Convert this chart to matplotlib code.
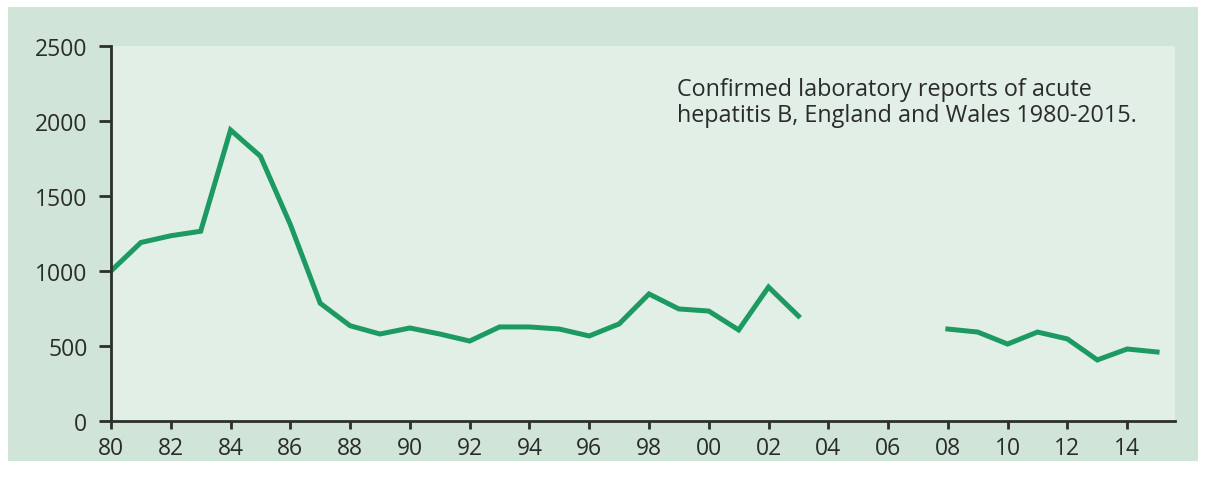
import numpy as np
import matplotlib.pyplot as plt
from matplotlib.patches import Rectangle

# Confirmed laboratory reports of acute hepatitis B, England and Wales
years = list(range(1980, 2016))
reports = [1000, 1190, 1235, 1265, 1940, 1765, 1310, 785, 635, 580,
           620, 580, 533, 627, 627, 613, 567, 647, 847, 747,
           733, 607, 893, 700, np.nan, np.nan, np.nan, np.nan, 613, 593,
           513, 593, 547, 407, 480, 460]

yticks = [0, 500, 1000, 1500, 2000, 2500]
xticks = list(range(1980, 2015, 2))
xticklabels = [f"{y % 100:02d}" for y in xticks]

note = "Confirmed laboratory reports of acute\nhepatitis B, England and Wales 1980-2015."

plt.rcParams['font.family'] = ['Open Sans', 'DejaVu Sans']

fig = plt.figure(figsize=(12.06, 4.89), dpi=100, facecolor="white")

# green card behind the chart, white border round it
fig.patches.append(Rectangle((8 / 1206, 27 / 489), 1190 / 1206, 454 / 489,
                             transform=fig.transFigure, facecolor="#d0e5d8",
                             edgecolor="none", zorder=-1))

ax = fig.add_axes([111 / 1206, 1 - 422 / 489, 1064 / 1206, 375 / 489])
ax.set_zorder(2)
ax.set_facecolor("#e2efe7")

ax.plot(years, reports, color="#1c9a62", lw=3.6, solid_joinstyle="miter")

ax.set_xlim(1980, 2015.6)
ax.set_ylim(0, 2500)
ax.set_yticks(yticks)
ax.set_xticks(xticks)
ax.set_xticklabels(xticklabels)

for side in ["top", "right"]:
    ax.spines[side].set_visible(False)
for side in ["left", "bottom"]:
    ax.spines[side].set_color("#2e2e2e")
    ax.spines[side].set_linewidth(2)

ax.tick_params(axis="y", length=9, width=2, color="#2e2e2e", pad=8,
               labelsize=16.5, labelcolor="#2b2b2b")
ax.tick_params(axis="x", length=6, width=2, color="#2e2e2e", pad=5,
               labelsize=16.5, labelcolor="#2b2b2b")

ax.text(0.532, 0.918, note, transform=ax.transAxes, ha="left", va="top",
        fontsize=16.8, color="#2b2b2b", linespacing=1.15)

plt.savefig("out.png", dpi=100, facecolor=fig.get_facecolor())
